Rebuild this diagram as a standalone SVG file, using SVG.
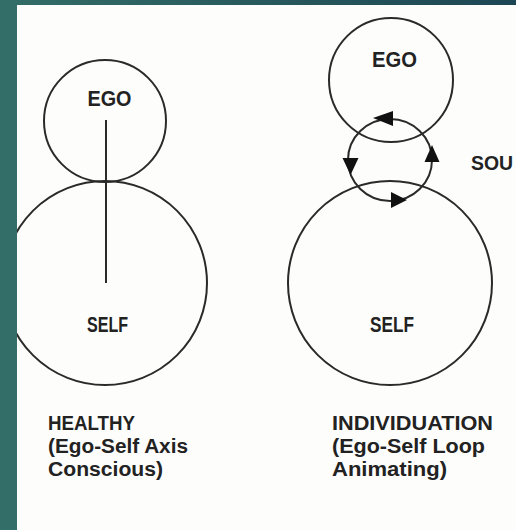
<svg xmlns="http://www.w3.org/2000/svg" width="516" height="530" viewBox="0 0 516 530">
<style>
.c{fill:none;stroke:#2a2a2a;stroke-width:2}
.t{font-family:"Liberation Sans",Arial,sans-serif;font-weight:bold;fill:#222}
.lbl{font-size:22px;text-anchor:middle}
.cap{font-size:20px}
.ah{fill:#111}
</style>
<defs>
<linearGradient id="band" x1="0" y1="0" x2="1" y2="0">
<stop offset="0" stop-color="#336d67"/>
<stop offset="1" stop-color="#1d4654"/>
</linearGradient>
</defs>
<rect x="0" y="0" width="516" height="530" fill="#fdfdfb"/>
<g id="node-self-left">
<circle class="c" cx="105" cy="283" r="102"/>
<text class="t lbl" x="107.5" y="332" textLength="41" lengthAdjust="spacingAndGlyphs">SELF</text>
</g>
<g id="node-ego-left">
<circle class="c" cx="105" cy="121" r="61"/>
<text class="t lbl" x="109.5" y="106" textLength="44" lengthAdjust="spacingAndGlyphs">EGO</text>
</g>
<g id="node-ego-right">
<circle class="c" cx="391" cy="80" r="62"/>
<text class="t lbl" x="394.5" y="67" textLength="45" lengthAdjust="spacingAndGlyphs">EGO</text>
</g>
<g id="node-self-right">
<circle class="c" cx="390" cy="283" r="102"/>
<text class="t lbl" x="392" y="332" textLength="44" lengthAdjust="spacingAndGlyphs">SELF</text>
</g>
<g id="connectors">
<line class="c" x1="106" y1="120" x2="106" y2="283"/>
<ellipse class="c" cx="390" cy="160" rx="42" ry="41"/>
<polygon class="ah" points="373,118 393,111 393,126"/>
<polygon class="ah" points="350.5,175 342.5,158 358.5,158"/>
<polygon class="ah" points="407,200 391,192 391,208"/>
<polygon class="ah" points="432,145 424.5,162 439.5,162"/>
</g>
<g id="label-soul">
<text class="t" x="471" y="170" font-size="21" textLength="42" lengthAdjust="spacingAndGlyphs">SOU</text>
</g>
<g id="caption-healthy">
<text class="t cap" x="48" y="430" textLength="87" lengthAdjust="spacingAndGlyphs">HEALTHY</text>
<text class="t cap" x="48" y="453" textLength="140" lengthAdjust="spacingAndGlyphs">(Ego-Self Axis</text>
<text class="t cap" x="48" y="476" textLength="115" lengthAdjust="spacingAndGlyphs">Conscious)</text>
</g>
<g id="caption-individuation">
<text class="t cap" x="332" y="430" textLength="161" lengthAdjust="spacingAndGlyphs">INDIVIDUATION</text>
<text class="t cap" x="332" y="453" textLength="153" lengthAdjust="spacingAndGlyphs">(Ego-Self Loop</text>
<text class="t cap" x="332" y="476" textLength="115" lengthAdjust="spacingAndGlyphs">Animating)</text>
</g>
<rect x="0" y="0" width="516" height="5" fill="url(#band)"/>
<rect x="0" y="0" width="17" height="530" fill="#346e68"/>
</svg>
